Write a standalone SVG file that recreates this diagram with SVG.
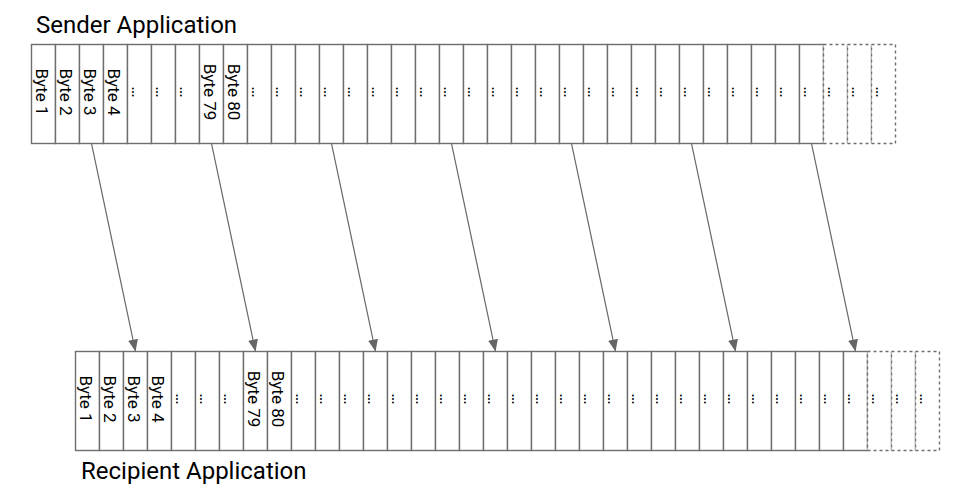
<svg xmlns="http://www.w3.org/2000/svg" width="972" height="495" viewBox="0 0 972 495">
<style>
.c{fill:#fff;stroke:#6e6e6e;stroke-width:1.4}
.d{fill:#fff;stroke:#6e6e6e;stroke-width:1.4;stroke-dasharray:3 3}
.t{font-family:Roboto,"Liberation Sans",sans-serif;font-size:17px;fill:#000;text-anchor:middle}
.h{font-family:Roboto,"Liberation Sans",sans-serif;font-size:24px;fill:#000}
.a{stroke:#666;stroke-width:1.2;fill:none;marker-end:url(#ah)}
</style>
<defs>
<marker id="ah" viewBox="0 0 12 10" refX="12" refY="5" markerWidth="12" markerHeight="10" markerUnits="userSpaceOnUse" orient="auto"><path d="M0,0 L12,5 L0,10 z" fill="#666"/></marker>
</defs>
<rect width="972" height="495" fill="#fff"/>
<text class="h" x="36" y="33">Sender Application</text>
<text class="h" x="81" y="478.5">Recipient Application</text>
<g id="sender">
<g id="s1" transform="translate(31.5,44.5)"><rect class="c" width="24" height="99"/><text class="t" transform="translate(12,47.5) rotate(90)" y="7.5">Byte 1</text></g>
<g id="s2" transform="translate(55.5,44.5)"><rect class="c" width="24" height="99"/><text class="t" transform="translate(12,47.5) rotate(90)" y="7.5">Byte 2</text></g>
<g id="s3" transform="translate(79.5,44.5)"><rect class="c" width="24" height="99"/><text class="t" transform="translate(12,47.5) rotate(90)" y="7.5">Byte 3</text></g>
<g id="s4" transform="translate(103.5,44.5)"><rect class="c" width="24" height="99"/><text class="t" transform="translate(12,47.5) rotate(90)" y="7.5">Byte 4</text></g>
<g id="s5" transform="translate(127.5,44.5)"><rect class="c" width="24" height="99"/><text class="t" transform="translate(12,47.5) rotate(90)" y="7.5">…</text></g>
<g id="s6" transform="translate(151.5,44.5)"><rect class="c" width="24" height="99"/><text class="t" transform="translate(12,47.5) rotate(90)" y="7.5">…</text></g>
<g id="s7" transform="translate(175.5,44.5)"><rect class="c" width="24" height="99"/><text class="t" transform="translate(12,47.5) rotate(90)" y="7.5">…</text></g>
<g id="s8" transform="translate(199.5,44.5)"><rect class="c" width="24" height="99"/><text class="t" transform="translate(12,47.5) rotate(90)" y="7.5">Byte 79</text></g>
<g id="s9" transform="translate(223.5,44.5)"><rect class="c" width="24" height="99"/><text class="t" transform="translate(12,47.5) rotate(90)" y="7.5">Byte 80</text></g>
<g id="s10" transform="translate(247.5,44.5)"><rect class="c" width="24" height="99"/><text class="t" transform="translate(12,47.5) rotate(90)" y="7.5">…</text></g>
<g id="s11" transform="translate(271.5,44.5)"><rect class="c" width="24" height="99"/><text class="t" transform="translate(12,47.5) rotate(90)" y="7.5">…</text></g>
<g id="s12" transform="translate(295.5,44.5)"><rect class="c" width="24" height="99"/><text class="t" transform="translate(12,47.5) rotate(90)" y="7.5">…</text></g>
<g id="s13" transform="translate(319.5,44.5)"><rect class="c" width="24" height="99"/><text class="t" transform="translate(12,47.5) rotate(90)" y="7.5">…</text></g>
<g id="s14" transform="translate(343.5,44.5)"><rect class="c" width="24" height="99"/><text class="t" transform="translate(12,47.5) rotate(90)" y="7.5">…</text></g>
<g id="s15" transform="translate(367.5,44.5)"><rect class="c" width="24" height="99"/><text class="t" transform="translate(12,47.5) rotate(90)" y="7.5">…</text></g>
<g id="s16" transform="translate(391.5,44.5)"><rect class="c" width="24" height="99"/><text class="t" transform="translate(12,47.5) rotate(90)" y="7.5">…</text></g>
<g id="s17" transform="translate(415.5,44.5)"><rect class="c" width="24" height="99"/><text class="t" transform="translate(12,47.5) rotate(90)" y="7.5">…</text></g>
<g id="s18" transform="translate(439.5,44.5)"><rect class="c" width="24" height="99"/><text class="t" transform="translate(12,47.5) rotate(90)" y="7.5">…</text></g>
<g id="s19" transform="translate(463.5,44.5)"><rect class="c" width="24" height="99"/><text class="t" transform="translate(12,47.5) rotate(90)" y="7.5">…</text></g>
<g id="s20" transform="translate(487.5,44.5)"><rect class="c" width="24" height="99"/><text class="t" transform="translate(12,47.5) rotate(90)" y="7.5">…</text></g>
<g id="s21" transform="translate(511.5,44.5)"><rect class="c" width="24" height="99"/><text class="t" transform="translate(12,47.5) rotate(90)" y="7.5">…</text></g>
<g id="s22" transform="translate(535.5,44.5)"><rect class="c" width="24" height="99"/><text class="t" transform="translate(12,47.5) rotate(90)" y="7.5">…</text></g>
<g id="s23" transform="translate(559.5,44.5)"><rect class="c" width="24" height="99"/><text class="t" transform="translate(12,47.5) rotate(90)" y="7.5">…</text></g>
<g id="s24" transform="translate(583.5,44.5)"><rect class="c" width="24" height="99"/><text class="t" transform="translate(12,47.5) rotate(90)" y="7.5">…</text></g>
<g id="s25" transform="translate(607.5,44.5)"><rect class="c" width="24" height="99"/><text class="t" transform="translate(12,47.5) rotate(90)" y="7.5">…</text></g>
<g id="s26" transform="translate(631.5,44.5)"><rect class="c" width="24" height="99"/><text class="t" transform="translate(12,47.5) rotate(90)" y="7.5">…</text></g>
<g id="s27" transform="translate(655.5,44.5)"><rect class="c" width="24" height="99"/><text class="t" transform="translate(12,47.5) rotate(90)" y="7.5">…</text></g>
<g id="s28" transform="translate(679.5,44.5)"><rect class="c" width="24" height="99"/><text class="t" transform="translate(12,47.5) rotate(90)" y="7.5">…</text></g>
<g id="s29" transform="translate(703.5,44.5)"><rect class="c" width="24" height="99"/><text class="t" transform="translate(12,47.5) rotate(90)" y="7.5">…</text></g>
<g id="s30" transform="translate(727.5,44.5)"><rect class="c" width="24" height="99"/><text class="t" transform="translate(12,47.5) rotate(90)" y="7.5">…</text></g>
<g id="s31" transform="translate(751.5,44.5)"><rect class="c" width="24" height="99"/><text class="t" transform="translate(12,47.5) rotate(90)" y="7.5">…</text></g>
<g id="s32" transform="translate(775.5,44.5)"><rect class="c" width="24" height="99"/><text class="t" transform="translate(12,47.5) rotate(90)" y="7.5">…</text></g>
<g id="s33" transform="translate(799.5,44.5)"><rect class="c" width="24" height="99"/><text class="t" transform="translate(12,47.5) rotate(90)" y="7.5">…</text></g>
<g id="s34" transform="translate(823.5,44.5)"><rect class="d" width="24" height="99"/><text class="t" transform="translate(12,47.5) rotate(90)" y="7.5">…</text></g>
<g id="s35" transform="translate(847.5,44.5)"><rect class="d" width="24" height="99"/><text class="t" transform="translate(12,47.5) rotate(90)" y="7.5">…</text></g>
<g id="s36" transform="translate(871.5,44.5)"><rect class="d" width="24" height="99"/><text class="t" transform="translate(12,47.5) rotate(90)" y="7.5">…</text></g>
</g>
<g id="recipient">
<g id="r1" transform="translate(75.5,351.5)"><rect class="c" width="24" height="99"/><text class="t" transform="translate(12,47.5) rotate(90)" y="7.5">Byte 1</text></g>
<g id="r2" transform="translate(99.5,351.5)"><rect class="c" width="24" height="99"/><text class="t" transform="translate(12,47.5) rotate(90)" y="7.5">Byte 2</text></g>
<g id="r3" transform="translate(123.5,351.5)"><rect class="c" width="24" height="99"/><text class="t" transform="translate(12,47.5) rotate(90)" y="7.5">Byte 3</text></g>
<g id="r4" transform="translate(147.5,351.5)"><rect class="c" width="24" height="99"/><text class="t" transform="translate(12,47.5) rotate(90)" y="7.5">Byte 4</text></g>
<g id="r5" transform="translate(171.5,351.5)"><rect class="c" width="24" height="99"/><text class="t" transform="translate(12,47.5) rotate(90)" y="7.5">…</text></g>
<g id="r6" transform="translate(195.5,351.5)"><rect class="c" width="24" height="99"/><text class="t" transform="translate(12,47.5) rotate(90)" y="7.5">…</text></g>
<g id="r7" transform="translate(219.5,351.5)"><rect class="c" width="24" height="99"/><text class="t" transform="translate(12,47.5) rotate(90)" y="7.5">…</text></g>
<g id="r8" transform="translate(243.5,351.5)"><rect class="c" width="24" height="99"/><text class="t" transform="translate(12,47.5) rotate(90)" y="7.5">Byte 79</text></g>
<g id="r9" transform="translate(267.5,351.5)"><rect class="c" width="24" height="99"/><text class="t" transform="translate(12,47.5) rotate(90)" y="7.5">Byte 80</text></g>
<g id="r10" transform="translate(291.5,351.5)"><rect class="c" width="24" height="99"/><text class="t" transform="translate(12,47.5) rotate(90)" y="7.5">…</text></g>
<g id="r11" transform="translate(315.5,351.5)"><rect class="c" width="24" height="99"/><text class="t" transform="translate(12,47.5) rotate(90)" y="7.5">…</text></g>
<g id="r12" transform="translate(339.5,351.5)"><rect class="c" width="24" height="99"/><text class="t" transform="translate(12,47.5) rotate(90)" y="7.5">…</text></g>
<g id="r13" transform="translate(363.5,351.5)"><rect class="c" width="24" height="99"/><text class="t" transform="translate(12,47.5) rotate(90)" y="7.5">…</text></g>
<g id="r14" transform="translate(387.5,351.5)"><rect class="c" width="24" height="99"/><text class="t" transform="translate(12,47.5) rotate(90)" y="7.5">…</text></g>
<g id="r15" transform="translate(411.5,351.5)"><rect class="c" width="24" height="99"/><text class="t" transform="translate(12,47.5) rotate(90)" y="7.5">…</text></g>
<g id="r16" transform="translate(435.5,351.5)"><rect class="c" width="24" height="99"/><text class="t" transform="translate(12,47.5) rotate(90)" y="7.5">…</text></g>
<g id="r17" transform="translate(459.5,351.5)"><rect class="c" width="24" height="99"/><text class="t" transform="translate(12,47.5) rotate(90)" y="7.5">…</text></g>
<g id="r18" transform="translate(483.5,351.5)"><rect class="c" width="24" height="99"/><text class="t" transform="translate(12,47.5) rotate(90)" y="7.5">…</text></g>
<g id="r19" transform="translate(507.5,351.5)"><rect class="c" width="24" height="99"/><text class="t" transform="translate(12,47.5) rotate(90)" y="7.5">…</text></g>
<g id="r20" transform="translate(531.5,351.5)"><rect class="c" width="24" height="99"/><text class="t" transform="translate(12,47.5) rotate(90)" y="7.5">…</text></g>
<g id="r21" transform="translate(555.5,351.5)"><rect class="c" width="24" height="99"/><text class="t" transform="translate(12,47.5) rotate(90)" y="7.5">…</text></g>
<g id="r22" transform="translate(579.5,351.5)"><rect class="c" width="24" height="99"/><text class="t" transform="translate(12,47.5) rotate(90)" y="7.5">…</text></g>
<g id="r23" transform="translate(603.5,351.5)"><rect class="c" width="24" height="99"/><text class="t" transform="translate(12,47.5) rotate(90)" y="7.5">…</text></g>
<g id="r24" transform="translate(627.5,351.5)"><rect class="c" width="24" height="99"/><text class="t" transform="translate(12,47.5) rotate(90)" y="7.5">…</text></g>
<g id="r25" transform="translate(651.5,351.5)"><rect class="c" width="24" height="99"/><text class="t" transform="translate(12,47.5) rotate(90)" y="7.5">…</text></g>
<g id="r26" transform="translate(675.5,351.5)"><rect class="c" width="24" height="99"/><text class="t" transform="translate(12,47.5) rotate(90)" y="7.5">…</text></g>
<g id="r27" transform="translate(699.5,351.5)"><rect class="c" width="24" height="99"/><text class="t" transform="translate(12,47.5) rotate(90)" y="7.5">…</text></g>
<g id="r28" transform="translate(723.5,351.5)"><rect class="c" width="24" height="99"/><text class="t" transform="translate(12,47.5) rotate(90)" y="7.5">…</text></g>
<g id="r29" transform="translate(747.5,351.5)"><rect class="c" width="24" height="99"/><text class="t" transform="translate(12,47.5) rotate(90)" y="7.5">…</text></g>
<g id="r30" transform="translate(771.5,351.5)"><rect class="c" width="24" height="99"/><text class="t" transform="translate(12,47.5) rotate(90)" y="7.5">…</text></g>
<g id="r31" transform="translate(795.5,351.5)"><rect class="c" width="24" height="99"/><text class="t" transform="translate(12,47.5) rotate(90)" y="7.5">…</text></g>
<g id="r32" transform="translate(819.5,351.5)"><rect class="c" width="24" height="99"/><text class="t" transform="translate(12,47.5) rotate(90)" y="7.5">…</text></g>
<g id="r33" transform="translate(843.5,351.5)"><rect class="c" width="24" height="99"/><text class="t" transform="translate(12,47.5) rotate(90)" y="7.5">…</text></g>
<g id="r34" transform="translate(867.5,351.5)"><rect class="d" width="24" height="99"/><text class="t" transform="translate(12,47.5) rotate(90)" y="7.5">…</text></g>
<g id="r35" transform="translate(891.5,351.5)"><rect class="d" width="24" height="99"/><text class="t" transform="translate(12,47.5) rotate(90)" y="7.5">…</text></g>
<g id="r36" transform="translate(915.5,351.5)"><rect class="d" width="24" height="99"/><text class="t" transform="translate(12,47.5) rotate(90)" y="7.5">…</text></g>
</g>
<g id="connectors">
<line class="a" x1="91.5" y1="143.5" x2="135.5" y2="351.5"/>
<line class="a" x1="211.5" y1="143.5" x2="255.5" y2="351.5"/>
<line class="a" x1="331.5" y1="143.5" x2="375.5" y2="351.5"/>
<line class="a" x1="451.5" y1="143.5" x2="495.5" y2="351.5"/>
<line class="a" x1="571.5" y1="143.5" x2="615.5" y2="351.5"/>
<line class="a" x1="691.5" y1="143.5" x2="735.5" y2="351.5"/>
<line class="a" x1="811.5" y1="143.5" x2="855.5" y2="351.5"/>
</g>
</svg>
